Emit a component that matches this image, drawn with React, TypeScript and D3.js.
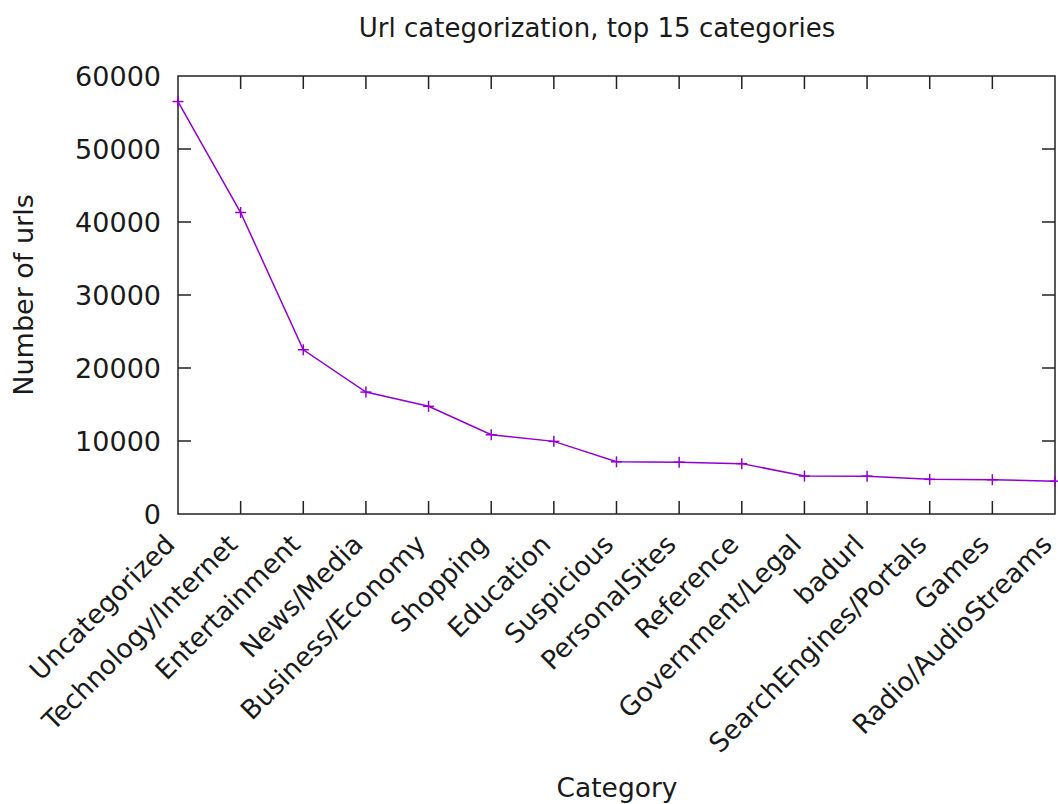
import React from "react";
import * as d3 from "d3";

const categories = [
  "Uncategorized",
  "Technology/Internet",
  "Entertainment",
  "News/Media",
  "Business/Economy",
  "Shopping",
  "Education",
  "Suspicious",
  "PersonalSites",
  "Reference",
  "Government/Legal",
  "badurl",
  "SearchEngines/Portals",
  "Games",
  "Radio/AudioStreams",
];
const counts = [56500, 41300, 22500, 16700, 14750, 10850, 9950, 7150, 7100, 6900, 5200, 5180, 4750, 4700, 4500];
const yTicks = [0, 10000, 20000, 30000, 40000, 50000, 60000];

const W = 1058;
const H = 804;
const L = 178;
const R = 1055;
const T = 76;
const B = 514;
const FONT = "DejaVu Sans";
const COLOR = "#9400d3";
const TICK = 13;

export default function App() {
  const x = d3.scaleLinear().domain([0, categories.length - 1]).range([L, R]);
  const y = d3.scaleLinear().domain([0, 60000]).range([B, T]);
  const line = d3
    .line<number>()
    .x((_, i) => x(i))
    .y((d) => y(d));
  const cs = 5.5;
  return (
    <svg
      width={W}
      height={H}
      style={{ position: "absolute", left: 0, top: 0, background: "#fff" }}
      fontFamily={FONT}
    >
      <rect x={0} y={0} width={W} height={H} fill="#fff" />
      {/* title */}
      <text x={597} y={37} textAnchor="middle" fontSize={26} fill="#1a1a1a">
        Url categorization, top 15 categories
      </text>
      {/* y ticks */}
      {yTicks.map((t) => (
        <g key={t}>
          {t !== 0 && t !== 60000 && (
            <>
              <line x1={L} x2={L + TICK} y1={y(t)} y2={y(t)} stroke="#222" strokeWidth={1.5} />
              <line x1={R} x2={R - TICK} y1={y(t)} y2={y(t)} stroke="#222" strokeWidth={1.5} />
            </>
          )}
          <text x={161} y={y(t) + 9.5} textAnchor="end" fontSize={27} fill="#1a1a1a">
            {t}
          </text>
        </g>
      ))}
      {/* x ticks */}
      {categories.map((c, i) => (
        <g key={c}>
          {i !== 0 && i !== categories.length - 1 && (
            <>
              <line x1={x(i)} x2={x(i)} y1={B} y2={B - TICK} stroke="#222" strokeWidth={1.5} />
              <line x1={x(i)} x2={x(i)} y1={T} y2={T + TICK} stroke="#222" strokeWidth={1.5} />
            </>
          )}
          <text
            transform={`translate(${x(i) - 1.5},${B + 32}) rotate(-45)`}
            textAnchor="end"
            fontSize={26.5}
            fill="#1a1a1a"
          >
            {c}
          </text>
        </g>
      ))}
      {/* border */}
      <rect x={L} y={T} width={R - L} height={B - T} fill="none" stroke="#222" strokeWidth={1.5} />
      {/* line */}
      <path d={line(counts) || ""} fill="none" stroke={COLOR} strokeWidth={1.5} />
      {counts.map((v, i) => (
        <g key={i} stroke={COLOR} strokeWidth={1.5}>
          <line x1={x(i) - cs} x2={x(i) + cs} y1={y(v)} y2={y(v)} />
          <line x1={x(i)} x2={x(i)} y1={y(v) - cs} y2={y(v) + cs} />
        </g>
      ))}
      {/* axis labels */}
      <text transform={`translate(33,${(T + B) / 2}) rotate(-90)`} textAnchor="middle" fontSize={27} fill="#1a1a1a">
        Number of urls
      </text>
      <text x={617} y={797} textAnchor="middle" fontSize={26.5} fill="#1a1a1a">
        Category
      </text>
    </svg>
  );
}
